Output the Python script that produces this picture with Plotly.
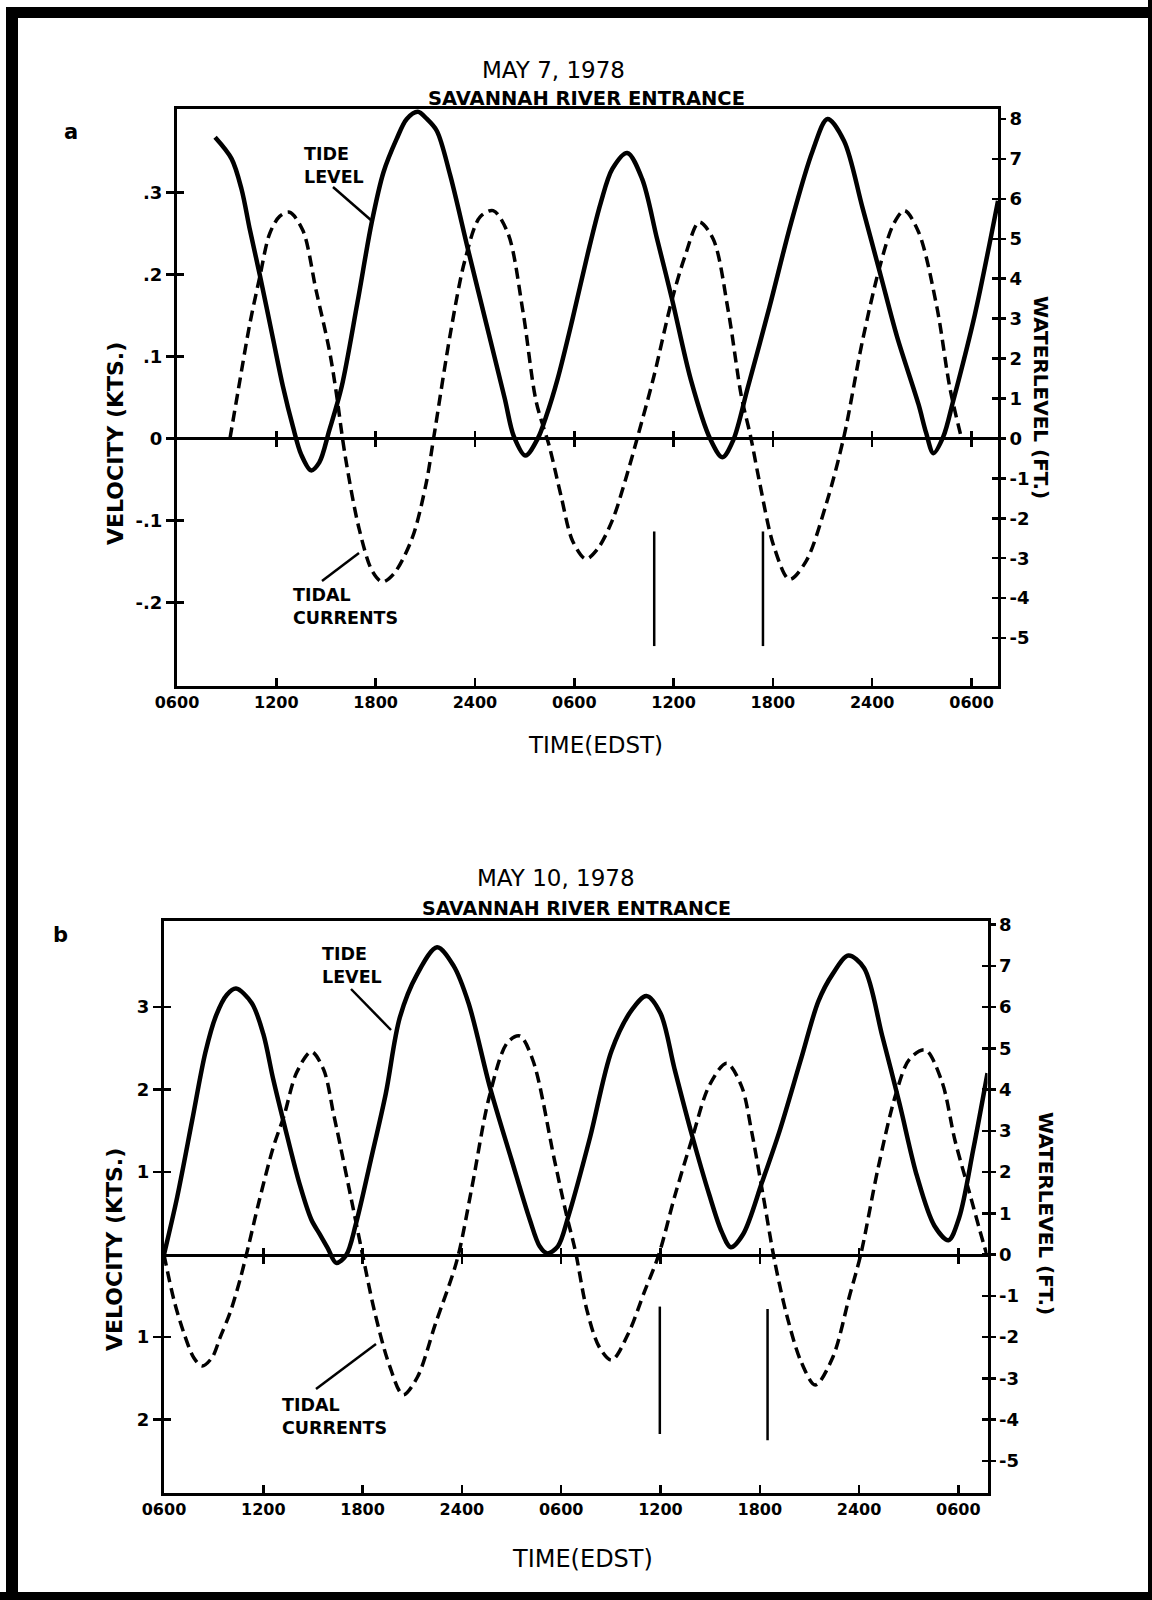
import plotly.graph_objects as go

W, H = 1152, 1600
FONT = "DejaVu Sans, Liberation Sans, sans-serif"

# ---------------- shared tick data ----------------
hour_ticks = [6, 12, 18, 24, 30, 36, 42, 48, 54]
hour_labels = ["0600", "1200", "1800", "2400", "0600", "1200", "1800", "2400", "0600"]
ft_ticks = [8, 7, 6, 5, 4, 3, 2, 1, 0, -1, -2, -3, -4, -5]
ft_labels = ["8", "7", "6", "5", "4", "3", "2", "1", "0", "-1", "-2", "-3", "-4", "-5"]

# ---------------- panel a : May 7, 1978 ----------------
a_tide_h = [8.3, 9.3, 9.9, 10.4, 11.0, 11.8, 12.4, 13.0, 13.5, 14.1, 14.6, 15.2, 15.95,
            16.9, 17.76, 18.47, 19.27, 19.88, 20.55, 21.1, 21.7, 22.5, 23.6, 24.7, 25.8,
            26.35, 27.05, 27.8, 28.3, 29.0, 29.9, 30.8, 31.6, 32.3, 33.2, 34.1, 35.0, 35.9,
            37.05, 38.2, 38.95, 39.6, 40.5, 41.8, 43.1, 44.4, 45.3, 46.3, 47.4, 48.5, 49.5,
            50.8, 51.25, 51.7, 52.3, 52.9, 54.2, 55.6]
a_tide_ft = [7.54, 7.0, 6.24, 5.23, 4.1, 2.5, 1.3, 0.3, -0.4, -0.8, -0.6, 0.2, 1.3,
             3.4, 5.4, 6.66, 7.5, 8.0, 8.18, 8.0, 7.7, 6.6, 4.7, 2.85, 1.0,
             0.05, -0.43, 0.0, 0.55, 1.5, 3.0, 4.6, 5.9, 6.75, 7.15, 6.5, 5.0, 3.5,
             1.46, 0.0, -0.47, -0.05, 1.3, 3.3, 5.4, 7.2, 8.0, 7.45, 5.8, 4.1, 2.55,
             0.85, 0.15, -0.37, 0.05, 0.95, 3.1, 5.95]
a_cur_h = [9.2, 9.7, 10.4, 11.0, 11.6, 12.2, 12.8, 13.6, 14.4, 15.2, 15.6, 16.15, 17.0, 17.8,
           18.4, 19.1, 20.2, 21.05, 21.5, 22.55, 23.4, 24.3, 25.1, 26.0, 26.9, 27.7, 28.5,
           29.2, 29.9, 30.7, 31.4, 32.3, 33.1, 33.8, 34.8, 35.85, 36.7, 37.55, 38.4, 39.3,
           40.1, 40.65, 41.2, 42.05, 43.0, 44.0, 45.25, 46.3, 47.4, 48.45, 49.3, 49.95, 50.8,
           51.9, 52.7, 53.4]
a_cur_kts = [0.0, 0.059, 0.14, 0.197, 0.25, 0.271, 0.276, 0.254, 0.181, 0.108, 0.059, -0.02,
             -0.11, -0.162, -0.175, -0.165, -0.122, -0.055, 0.0, 0.132, 0.218, 0.27, 0.278,
             0.25, 0.155, 0.045, -0.01, -0.07, -0.125, -0.147, -0.135, -0.1, -0.05, 0.0,
             0.075, 0.165, 0.223, 0.264, 0.243, 0.156, 0.051, 0.003, -0.054, -0.131, -0.172,
             -0.15, -0.078, 0.003, 0.118, 0.209, 0.262, 0.278, 0.252, 0.161, 0.061, 0.0]
a_mark_h = [34.83, 41.4]
a_mark_top_ft = [-2.33, -2.33]
a_mark_bot_ft = [-5.2, -5.2]
a_vel_ticks = [0.3, 0.2, 0.1, 0, -0.1, -0.2]
a_vel_labels = [".3", ".2", ".1", "0", "-.1", "-.2"]

# ---------------- panel b : May 10, 1978 ----------------
b_tide_h = [6.0, 6.8, 7.7, 8.5, 9.15, 9.8, 10.35, 11.3, 12.0, 12.6, 13.3, 14.2, 14.9, 15.4,
            15.9, 16.4, 17.0, 17.6, 18.5, 19.4, 20.25, 21.3, 22.5, 23.5, 24.4, 25.7, 27.0,
            28.1, 28.7, 29.15, 29.8, 30.45, 31.75, 33.05, 34.3, 35.15, 36.0, 36.85, 37.9,
            38.95, 39.7, 40.25, 41.0, 42.15, 43.2, 44.5, 45.55, 46.4, 47.35, 48.3, 49.4,
            50.45, 51.5, 52.55, 53.4, 54.05, 54.9, 55.76]
b_tide_ft = [0.0, 1.4, 3.25, 4.9, 5.8, 6.3, 6.45, 6.1, 5.35, 4.25, 3.1, 1.7, 0.85, 0.5,
             0.15, -0.2, -0.02, 0.75, 2.3, 3.9, 5.75, 6.8, 7.45, 7.0, 6.1, 4.05, 2.3,
             0.85, 0.2, 0.03, 0.2, 0.95, 2.85, 4.95, 5.95, 6.27, 5.85, 4.5, 2.9,
             1.45, 0.55, 0.18, 0.5, 1.77, 3.0, 4.75, 6.15, 6.8, 7.25, 6.95, 5.3,
             3.65, 1.9, 0.7, 0.35, 0.9, 2.55, 4.4]
b_cur_h = [6.0, 6.6, 7.2, 7.8, 8.3, 8.9, 9.4, 10.0, 10.6, 11.1, 11.75, 12.6, 13.25, 14.0,
           14.9, 15.65, 16.25, 16.55, 17.4, 18.0, 18.7, 19.6, 20.45, 21.3, 22.4, 23.7, 24.6,
           25.65, 26.75, 27.5, 28.3, 29.6, 30.3, 30.85, 31.55, 32.3, 33.05, 34.05, 35.05,
           35.9, 36.85, 37.9, 38.95, 40.0, 40.9, 41.5, 42.2, 42.9, 43.65, 44.5, 45.35,
           46.4, 47.45, 48.1, 49.15, 50.2, 51.05, 52.0, 53.0, 53.8, 54.7, 55.3, 55.7]
b_cur_kts = [0.0, -0.55, -0.95, -1.25, -1.35, -1.25, -1.0, -0.7, -0.3, 0.1, 0.65, 1.3, 1.68,
             2.2, 2.46, 2.24, 1.7, 1.42, 0.59, 0.0, -0.67, -1.33, -1.7, -1.49, -0.84, -0.07,
             0.81, 1.91, 2.57, 2.65, 2.35, 1.14, 0.5, 0.05, -0.67, -1.12, -1.28, -0.96, -0.44,
             0.0, 0.7, 1.4, 2.05, 2.32, 2.04, 1.5, 0.72, -0.08, -0.75, -1.3, -1.58,
             -1.25, -0.48, 0.0, 1.05, 1.93, 2.37, 2.48, 2.1, 1.38, 0.73, 0.29, 0.01]
b_mark_h = [35.96, 42.47]
b_mark_top_ft = [-1.26, -1.32]
b_mark_bot_ft = [-4.35, -4.5]
b_vel_ticks = [3, 2, 1, -1, -2]
b_vel_labels = ["3", "2", "1", "1", "2"]


# ---------------- geometry (pixels -> paper) ----------------
def px(x):
    return x / W


def py(y):
    return 1 - y / H


panels = [
    dict(x_dom=[px(177), px(998)], y_dom=[py(686), py(109)], x_rng=[6, 55.6],
         kts_rng=[-0.302, 0.402], ft_rng=[-6.2, 8.25],
         vel_ticks=a_vel_ticks, vel_labels=a_vel_labels,
         tide_h=a_tide_h, tide_ft=a_tide_ft, cur_h=a_cur_h, cur_kts=a_cur_kts,
         mark_h=a_mark_h, mark_top=a_mark_top_ft, mark_bot=a_mark_bot_ft),
    dict(x_dom=[px(164), px(987.5)], y_dom=[py(1493), py(920.5)], x_rng=[6, 55.76],
         kts_rng=[-2.89, 4.05], ft_rng=[-5.78, 8.1],
         vel_ticks=b_vel_ticks, vel_labels=b_vel_labels,
         tide_h=b_tide_h, tide_ft=b_tide_ft, cur_h=b_cur_h, cur_kts=b_cur_kts,
         mark_h=b_mark_h, mark_top=b_mark_top_ft, mark_bot=b_mark_bot_ft),
]

fig = go.Figure()
layout = {}
TICKFONT = dict(family=FONT, size=16, color="black", weight="bold")
LW = 3


def key(a):
    return a[0] + "axis" + a[1:]


xi, yi = 1, 1
for p in panels:
    X = f"x{'' if xi == 1 else xi}"
    Xz1 = f"x{xi + 1}"
    Xz2 = f"x{xi + 2}"
    YL = f"y{'' if yi == 1 else yi}"
    YR = f"y{yi + 1}"
    YL2 = f"y{yi + 2}"
    YR2 = f"y{yi + 3}"

    zero_pos = p["y_dom"][0] + (0 - p["kts_rng"][0]) / (p["kts_rng"][1] - p["kts_rng"][0]) * (
        p["y_dom"][1] - p["y_dom"][0])

    common_x = dict(range=p["x_rng"], showgrid=False, zeroline=False, tickvals=hour_ticks,
                    fixedrange=True, automargin=False)
    layout[key(X)] = dict(common_x, domain=p["x_dom"], anchor=YL, showline=True, linewidth=LW,
                          linecolor="black", mirror=True, ticks="inside", ticklen=8,
                          tickwidth=2.5, tickcolor="black", ticktext=hour_labels,
                          tickfont=TICKFONT)
    for ax, side in ((Xz1, "outside"), (Xz2, "inside")):
        layout[key(ax)] = dict(common_x, overlaying=X, anchor="free", position=zero_pos,
                               showline=(side == "outside"), linewidth=LW, linecolor="black",
                               ticks=side, ticklen=7, tickwidth=2.5, tickcolor="black",
                               showticklabels=False, tickvals=hour_ticks[1:])
        fig.add_trace(go.Scatter(x=[None], y=[None], xaxis=ax, yaxis=YL, showlegend=False,
                                 hoverinfo="skip"))

    common_y = dict(showgrid=False, zeroline=False, fixedrange=True, automargin=False,
                    tickcolor="black", tickwidth=2.5)
    layout[key(YL)] = dict(common_y, domain=p["y_dom"], anchor=X, range=p["kts_rng"],
                           showline=True, linewidth=LW, linecolor="black",
                           ticks="outside", ticklen=8,
                           tickvals=p["vel_ticks"], ticktext=p["vel_labels"],
                           tickfont=dict(TICKFONT, size=18))
    layout[key(YL2)] = dict(common_y, overlaying=YL, anchor=X, side="left", range=p["kts_rng"],
                            showline=False, ticks="inside", ticklen=7,
                            tickvals=p["vel_ticks"], showticklabels=False)
    layout[key(YR)] = dict(common_y, overlaying=YL, anchor=X, side="right", range=p["ft_rng"],
                           showline=True, linewidth=LW, linecolor="black", ticks="outside",
                           ticklen=5, tickvals=ft_ticks, ticktext=ft_labels,
                           tickfont=dict(TICKFONT, size=18))
    layout[key(YR2)] = dict(common_y, overlaying=YL, anchor=X, side="right", range=p["ft_rng"],
                            showline=False, ticks="inside", ticklen=6,
                            tickvals=ft_ticks[1:], showticklabels=False)
    for ya in (YL2, YR2):
        fig.add_trace(go.Scatter(x=[None], y=[None], xaxis=X, yaxis=ya, showlegend=False,
                                 hoverinfo="skip"))

    # tide level (right axis, ft)
    fig.add_trace(go.Scatter(x=p["tide_h"], y=p["tide_ft"], xaxis=X, yaxis=YR, mode="lines",
                             line=dict(color="black", width=4.5, shape="spline", smoothing=0.9),
                             showlegend=False, name="Tide level"))
    # tidal currents (left axis, kts)
    fig.add_trace(go.Scatter(x=p["cur_h"], y=p["cur_kts"], xaxis=X, yaxis=YL, mode="lines",
                             line=dict(color="black", width=3.5, dash="11px,6px",
                                       shape="spline", smoothing=0.9),
                             showlegend=False, name="Tidal currents"))
    # vertical marker lines
    for h, t, b in zip(p["mark_h"], p["mark_top"], p["mark_bot"]):
        fig.add_trace(go.Scatter(x=[h, h], y=[t, b], xaxis=X, yaxis=YR, mode="lines",
                                 line=dict(color="black", width=2.5), showlegend=False,
                                 hoverinfo="skip"))
    xi += 3
    yi += 4


# ---------------- text ----------------
def txt(text, x, y, size, bold=False, angle=0, xanchor="center", yanchor="middle",
        align="center"):
    return dict(text=text, x=px(x), y=py(y), xref="paper", yref="paper", showarrow=False,
                xanchor=xanchor, yanchor=yanchor, align=align, textangle=angle,
                font=dict(family=FONT, size=size, color="black",
                          weight="bold" if bold else "normal"))


annotations = [
    txt("MAY 7, 1978", 553, 70, 23),
    txt("SAVANNAH RIVER ENTRANCE", 586, 98, 19.5, bold=True),
    txt("a", 71, 132, 21, bold=True),
    txt("VELOCITY (KTS.)", 115, 444, 22, bold=True, angle=-90),
    txt("WATERLEVEL (FT.)", 1041, 397, 20, bold=True, angle=90),
    txt("TIME(EDST)", 595, 745, 23),
    txt("TIDE<br>LEVEL", 302, 142, 17.5, bold=True, xanchor="left", yanchor="top", align="left"),
    txt("TIDAL<br>CURRENTS", 291, 583, 17.5, bold=True, xanchor="left", yanchor="top",
        align="left"),

    txt("MAY 10, 1978", 556, 878, 23),
    txt("SAVANNAH RIVER ENTRANCE", 576, 908, 19, bold=True),
    txt("b", 60, 935, 21, bold=True),
    txt("VELOCITY (KTS.)", 114, 1250, 22, bold=True, angle=-90),
    txt("WATERLEVEL (FT.)", 1046, 1213, 20, bold=True, angle=90),
    txt("TIME(EDST)", 582, 1559, 24),
    txt("TIDE<br>LEVEL", 320, 942, 17.5, bold=True, xanchor="left", yanchor="top", align="left"),
    txt("TIDAL<br>CURRENTS", 280, 1393, 17.5, bold=True, xanchor="left", yanchor="top",
        align="left"),
]


def seg(x0, y0, x1, y1, w=2.5):
    return dict(type="line", xref="paper", yref="paper", x0=px(x0), y0=py(y0), x1=px(x1),
                y1=py(y1), line=dict(color="black", width=w))


def block(x0, y0, x1, y1):
    return dict(type="rect", xref="paper", yref="paper", x0=px(x0), y0=py(y0), x1=px(x1),
                y1=py(y1), fillcolor="black", line=dict(width=0), layer="above")


shapes = [
    seg(333, 187, 372, 221), seg(322, 581, 359, 553),
    seg(351, 989, 391, 1030), seg(316, 1389, 376, 1344),
    block(6, 7, W, 18), block(0, 1592, W, 1600), block(6, 7, 18, H), block(1148, 0, W, H),
]

fig.update_layout(**layout)
fig.update_layout(template="none", width=W, height=H, margin=dict(l=0, r=0, t=0, b=0, pad=0),
                  paper_bgcolor="white", plot_bgcolor="rgba(0,0,0,0)", showlegend=False,
                  annotations=annotations, shapes=shapes, font=dict(family=FONT))

fig.write_html("out.html",
               config={"displayModeBar": False, "staticPlot": True},
               post_script="document.body.style.margin='0px';"
                           "document.body.style.overflow='hidden';")
